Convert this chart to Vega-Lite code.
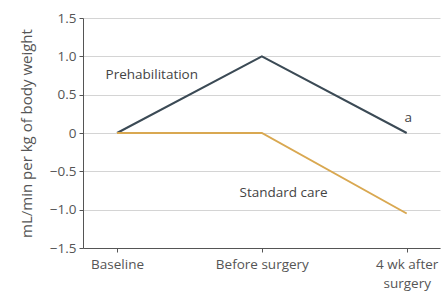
{
  "$schema": "https://vega.github.io/schema/vega-lite/v6.json",
  "autosize": {"type": "none"},
  "width": 357,
  "height": 230,
  "padding": {"left": 83, "top": 18, "right": 5, "bottom": 50},
  "background": "white",
  "config": {
    "view": {"stroke": null},
    "font": "Open Sans",
    "axis": {
      "labelFont": "Open Sans",
      "titleFont": "Open Sans",
      "labelColor": "#555555",
      "titleColor": "#555555",
      "domainColor": "#555555",
      "tickColor": "#555555",
      "labelFontSize": 13.5,
      "titleFontSize": 15,
      "titleFontWeight": "normal",
      "labelOverlap": false
    }
  },
  "datasets": {
    "lines": [
      {"t": 0, "value": 0, "group": "Prehabilitation"},
      {"t": 1, "value": 1.0, "group": "Prehabilitation"},
      {"t": 2, "value": 0, "group": "Prehabilitation"},
      {"t": 0, "value": 0, "group": "Standard care"},
      {"t": 1, "value": 0, "group": "Standard care"},
      {"t": 2, "value": -1.05, "group": "Standard care"}
    ],
    "labels": [
      {"t": 0.24, "value": 0.76, "text": "Prehabilitation"},
      {"t": 1.15, "value": -0.78, "text": "Standard care"},
      {"t": 2.01, "value": 0.19, "text": "a"}
    ]
  },
  "encoding": {
    "x": {
      "field": "t",
      "type": "quantitative",
      "scale": {"domain": [-0.235, 2.23], "nice": false, "zero": false},
      "axis": {
        "values": [0, 1, 2],
        "title": null,
        "grid": false,
        "tickSize": 4,
        "labelPadding": 5,
        "labelExpr": "datum.value == 0 ? 'Baseline' : datum.value == 1 ? 'Before surgery' : ['4 wk after', 'surgery']",
        "labelAlign": "center",
        "labelFlush": false,
        "labelLineHeight": 19
      }
    },
    "y": {
      "field": "value",
      "type": "quantitative",
      "scale": {"domain": [-1.5, 1.5], "nice": false, "zero": false},
      "axis": {
        "values": [-1.5, -1.0, -0.5, 0, 0.5, 1.0, 1.5],
        "tickCount": 7,
        "labelExpr": "datum.value == 0 ? '0' : format(datum.value, '.1f')",
        "title": "mL/min per kg of body weight",
        "titlePadding": 15,
        "grid": true,
        "gridColor": "#d4d4d4",
        "gridWidth": 1,
        "tickSize": 4,
        "labelPadding": 3
      }
    }
  },
  "layer": [
    {
      "data": {"name": "lines"},
      "mark": {"type": "line", "strokeWidth": 2},
      "encoding": {
        "color": {
          "field": "group",
          "type": "nominal",
          "scale": {"domain": ["Prehabilitation", "Standard care"], "range": ["#3b4a55", "#d9a851"]},
          "legend": null
        }
      }
    },
    {
      "data": {"name": "labels"},
      "mark": {"type": "text", "fontSize": 13.5, "color": "#444444", "font": "Open Sans"},
      "encoding": {
        "text": {"field": "text"}
      }
    }
  ]
}
